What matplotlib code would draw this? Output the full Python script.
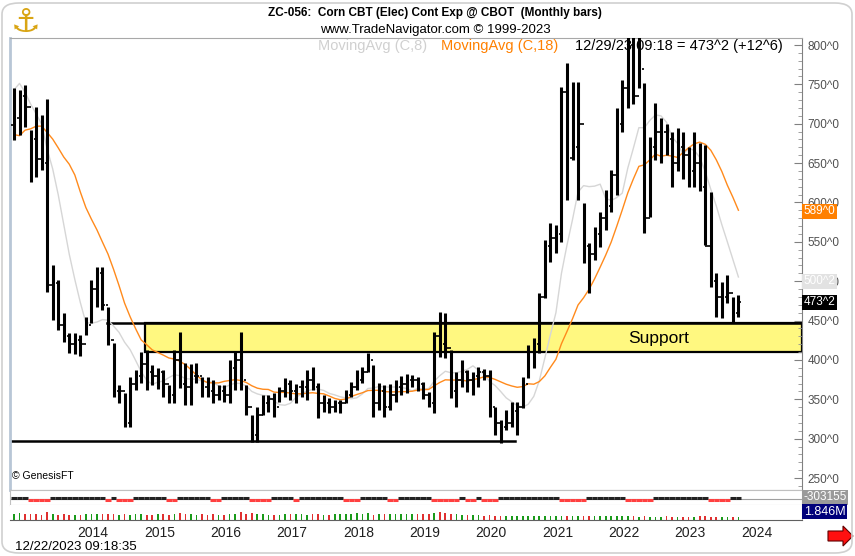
import numpy as np
import pandas as pd
import matplotlib.pyplot as plt
from matplotlib import font_manager as fm
from matplotlib.patches import Rectangle, FancyBboxPatch, Polygon
from matplotlib.transforms import blended_transform_factory

# monthly bars, Jan 2013 .. Dec 2023
highs = [745, 743, 749, 692, 721, 711, 731, 521, 502, 460, 434, 434,
         432, 455, 502, 518, 518, 467, 421, 368, 358, 378, 387, 410,
         413, 394, 390, 387, 368, 413, 436, 396, 395, 396, 378, 378,
         374, 368, 368, 400, 410, 436, 368, 330, 340, 355, 355, 358,
         366, 377, 374, 370, 374, 387, 391, 371, 355, 352, 349, 349,
         362, 372, 387, 391, 409, 394, 371, 368, 370, 374, 380, 382,
         381, 378, 372, 359, 436, 461, 460, 413, 385, 400, 387, 385,
         391, 388, 387, 340, 324, 336, 347, 347, 378, 419, 428, 485,
         552, 574, 571, 747, 777, 753, 753, 599, 549, 569, 588, 616,
         641, 720, 755, 812, 812, 812, 752, 683, 726, 707, 700, 690,
         695, 690, 670, 690, 675, 673, 613, 510, 499, 508, 480, 482]
lows = [679, 686, 696, 626, 632, 641, 486, 451, 438, 423, 409, 407,
        405, 432, 447, 467, 463, 419, 353, 345, 315, 315, 362, 371,
        362, 368, 363, 353, 345, 345, 364, 343, 343, 371, 353, 353,
        345, 349, 347, 345, 362, 362, 330, 296, 296, 330, 334, 327,
        347, 353, 349, 345, 353, 349, 362, 326, 334, 333, 334, 333,
        345, 353, 362, 371, 385, 327, 336, 327, 336, 346, 355, 358,
        366, 360, 350, 340, 333, 404, 403, 352, 340, 366, 359, 355,
        366, 375, 327, 305, 295, 311, 315, 305, 339, 377, 390, 409,
        479, 524, 536, 550, 603, 654, 603, 523, 485, 527, 543, 565,
        588, 609, 690, 720, 725, 745, 561, 582, 654, 650, 660, 620,
        640, 630, 620, 620, 615, 546, 493, 454, 453, 472, 447, 455]
closes = [707, 735, 721, 680, 655, 650, 495, 498, 445, 430, 420, 425,
          420, 445, 490, 510, 470, 425, 360, 360, 320, 370, 380, 395,
          385, 380, 385, 370, 355, 400, 370, 365, 380, 380, 365, 360,
          355, 360, 355, 390, 400, 375, 340, 305, 330, 345, 350, 340,
          360, 370, 360, 365, 365, 375, 365, 345, 345, 340, 345, 345,
          355, 365, 375, 385, 400, 345, 360, 340, 355, 365, 370, 375,
          375, 370, 355, 345, 430, 420, 415, 360, 375, 385, 375, 380,
          385, 380, 340, 320, 315, 320, 335, 340, 370, 410, 420, 480,
          545, 555, 560, 740, 656, 670, 700, 545, 535, 560, 580, 595,
          635, 700, 745, 800, 735, 770, 580, 670, 690, 690, 680, 650,
          670, 660, 640, 650, 620, 545, 500, 480, 480, 485, 460, 473]
# closes Aug 2011 .. Dec 2012, only used to warm up the moving averages
closes_prior = [760, 595, 650, 595, 647, 640, 650, 645, 640, 585, 670, 810,
                800, 755, 755, 750, 698]
volume_k = [330, 360, 300, 340, 310, 290, 420, 300, 280, 310, 290, 260,
            250, 300, 330, 340, 300, 310, 330, 290, 310, 270, 300, 310,
            280, 290, 300, 320, 280, 330, 350, 300, 320, 290, 300, 280,
            300, 290, 280, 310, 340, 420, 300, 380, 330, 300, 290, 280,
            290, 300, 330, 320, 300, 290, 340, 300, 280, 290, 300, 330,
            300, 320, 380, 300, 360, 290, 300, 320, 300, 330, 340, 320,
            310, 300, 320, 300, 360, 420, 400, 340, 300, 290, 280, 260,
            250, 240, 260, 230, 220, 210, 200, 200, 210, 220, 230, 240,
            240, 230, 220, 240, 230, 220, 210, 200, 190, 200, 210, 200,
            190, 200, 210, 200, 190, 180, 190, 180, 170, 180, 190, 180,
            170, 180, 170, 180, 200, 190, 180, 170, 160, 170, 160, 150]
cot_sign = [1, 1, 1, -1, -1, -1, -1, 1, 1, 1, 1, 1,
            1, 1, 1, 1, 1, -1, 1, -1, -1, -1, 1, 1,
            1, 1, 1, 1, -1, -1, 1, 1, 1, 1, 1, 1,
            -1, -1, 1, 1, 1, 1, 1, -1, -1, -1, -1, 1,
            1, 1, 1, -1, 1, 1, 1, 1, 1, 1, 1, 1,
            -1, -1, -1, 1, 1, 1, 1, 1, -1, -1, 1, 1,
            1, 1, 1, 1, -1, -1, -1, -1, -1, 1, -1, -1,
            1, -1, -1, -1, 1, 1, 1, 1, 1, 1, 1, 1,
            1, 1, 1, -1, -1, -1, -1, -1, 1, 1, 1, 1,
            1, 1, 1, -1, -1, -1, -1, -1, 1, 1, 1, 1,
            1, 1, 1, 1, 1, 1, -1, -1, -1, -1, 1, 1]
years = list(range(2014, 2025))

names = {f.name for f in fm.fontManager.ttflist}
narrow = 'Liberation Sans Narrow' if 'Liberation Sans Narrow' in names else 'Liberation Sans'
plt.rcParams['font.family'] = [narrow, 'DejaVu Sans']

W, H = 855, 556
fig = plt.figure(figsize=(W / 100, H / 100), dpi=100)


def px_axes(l, t, r, b):
    return fig.add_axes([l / W, 1 - b / H, (r - l) / W, (b - t) / H])


idx = np.arange(len(highs))
n_prior = len(closes_prior)
all_closes = pd.Series(closes_prior + closes, dtype=float)
ma8 = all_closes.rolling(8, min_periods=1).mean().values[n_prior:]
ma18 = all_closes.rolling(18, min_periods=1).mean().values[n_prior:]
opens = all_closes.shift(1).values[n_prior:]
xlim = (-0.72, 142.5)

# main price panel
ax = px_axes(10, 38, 802, 490)
ax.set_xlim(*xlim)
ax.set_ylim(234.8, 808.9)

ax.add_patch(Rectangle((23.7, 410), xlim[1] - 23.7, 37, facecolor='#fff880',
                       edgecolor='black', lw=1.6, zorder=1))
ax.plot([16.8, xlim[1]], [447, 447], color='black', lw=1.8, zorder=2)
ax.plot([xlim[0], 90.6], [296.5, 296.5], color='black', lw=1.8, zorder=2)
ax.text(116.5, 427, 'Support', fontsize=12.5, family='Liberation Sans',
        ha='center', va='center', zorder=5)

ax.plot(idx, ma8, color='#d6d6d6', lw=1, zorder=3)
ax.plot(idx, ma18, color='#ff8a1c', lw=1, zorder=3)
ax.vlines(idx, lows, highs, color='black', lw=2.2, zorder=4)
ax.hlines(opens, idx - 0.45, idx, color='black', lw=1.2, zorder=4)
ax.hlines(closes, idx, idx + 0.45, color='black', lw=1.2, zorder=4)

ax.yaxis.tick_right()
ax.set_yticks(np.arange(250, 801, 50))
ax.set_yticklabels([f'{v}^0' for v in range(250, 801, 50)])
ax.set_yticks(np.arange(240, 809, 10), minor=True)
ax.tick_params(axis='y', which='major', direction='in', length=6, width=0.8,
               color='#808080', labelsize=8.5, labelcolor='#505050', pad=4)
ax.tick_params(axis='y', which='minor', direction='in', length=3, width=0.6,
               color='#909090')
ax.set_xticks([])
for side, c, w in [('left', '#b8c6d6', 2), ('top', '#a8a8a8', 0.8),
                   ('right', '#808080', 0.8), ('bottom', '#b0b0b0', 0.8)]:
    ax.spines[side].set_color(c)
    ax.spines[side].set_linewidth(w)

tr = blended_transform_factory(ax.transAxes, ax.transData)
for val, txt, fc in [(589, '589^0', '#ff8000'), (500, '500^2', '#e2e2e2'),
                     (473, '473^2', 'black')]:
    ax.text(1.002, val, txt, transform=tr, fontsize=8.5, color='white',
            ha='left', va='center', zorder=6,
            bbox=dict(boxstyle='square,pad=0.12', fc=fc, ec='none'))
ax.text(0.003, 0.02, '© GenesisFT', transform=ax.transAxes, fontsize=7.5,
        ha='left', va='bottom')

# commitment-style strip
ax2 = px_axes(10, 490, 802, 505)
ax2.set_xlim(*xlim)
ax2.set_ylim(-1, 1)
ax2.axhline(-0.2, color='#a0a0a0', lw=0.8)
for i, s in enumerate(cot_sign):
    ax2.plot([i - 0.5, i + 0.5], [0, 0] if s > 0 else [-0.3, -0.3],
             color='#222222' if s > 0 else '#ff4040', lw=2.2, solid_capstyle='butt')
ax2.set_xticks([])
ax2.set_yticks([])
for side in ax2.spines:
    ax2.spines[side].set_color('#c0c0c0')
    ax2.spines[side].set_linewidth(0.8)
ax2.text(1.002, 0.5, '-303155', transform=ax2.transAxes, fontsize=8.5,
         color='white', ha='left', va='center',
         bbox=dict(boxstyle='square,pad=0.12', fc='#9a9a9a', ec='none'))

# volume strip
ax3 = px_axes(10, 505, 802, 520)
ax3.set_xlim(*xlim)
ax3.set_ylim(0, 800)
up = np.array(closes) >= opens
ax3.bar(idx, volume_k, width=0.3, color=np.where(up, '#1a9a1a', '#e03030'))
ax3.set_yticks([])
ax3.set_xticks([12 * (y - 2013) + 2.3 for y in years])
ax3.set_xticklabels([str(y) for y in years])
ax3.tick_params(axis='x', length=0, labelsize=10, pad=4, labelcolor='#202020')
ax3.spines['top'].set_visible(False)
ax3.spines['left'].set_visible(False)
ax3.spines['right'].set_color('#c0c0c0')
ax3.spines['bottom'].set_color('#606060')
ax3.text(1.002, 0.55, '1.846M', transform=ax3.transAxes, fontsize=9,
         color='white', ha='left', va='center',
         bbox=dict(boxstyle='square,pad=0.12', fc='#00007a', ec='none'))

# header texts
fig.text(435 / W, 1 - 13 / H, 'ZC-056:  Corn CBT (Elec) Cont Exp @ CBOT  (Monthly bars)',
         ha='center', va='center', fontsize=8.5, fontweight='bold')
fig.text(435 / W, 1 - 30 / H, 'www.TradeNavigator.com © 1999-2023',
         ha='center', va='center', fontsize=9.5)
fig.text(318 / W, 1 - 46 / H, 'MovingAvg (C,8)', color='#d0d0d0',
         ha='left', va='center', fontsize=10.5)
fig.text(441 / W, 1 - 46 / H, 'MovingAvg (C,18)', color='#ff8000',
         ha='left', va='center', fontsize=10.5)
fig.text(575 / W, 1 - 46 / H, '12/29/23 09:18 = 473^2 (+12^6)', color='black',
         ha='left', va='center', fontsize=10.5)
fig.text(15 / W, 1 - 547 / H, '12/22/2023 09:18:35', ha='left', va='center',
         fontsize=9.5)
fig.text(26 / W, 1 - 22 / H, '\u2693', color='#d9a514', family='DejaVu Sans',
         ha='center', va='center', fontsize=24)

# red arrow bottom right
arrow = Polygon([(828 / W, 1 - 531 / H), (843 / W, 1 - 531 / H),
                 (843 / W, 1 - 526 / H), (853 / W, 1 - 536 / H),
                 (843 / W, 1 - 546 / H), (843 / W, 1 - 541 / H),
                 (828 / W, 1 - 541 / H)], closed=True, fc='#ff1010',
                ec='#600000', lw=0.8, transform=fig.transFigure)
fig.patches.append(arrow)

frame = FancyBboxPatch((2 / W, 3 / H), 850 / W, 550 / H,
                       boxstyle='round,pad=0,rounding_size=0.02',
                       fc='none', ec='#d0d0d0', lw=1.2, transform=fig.transFigure)
fig.patches.append(frame)

fig.savefig('out.png', dpi=100)
